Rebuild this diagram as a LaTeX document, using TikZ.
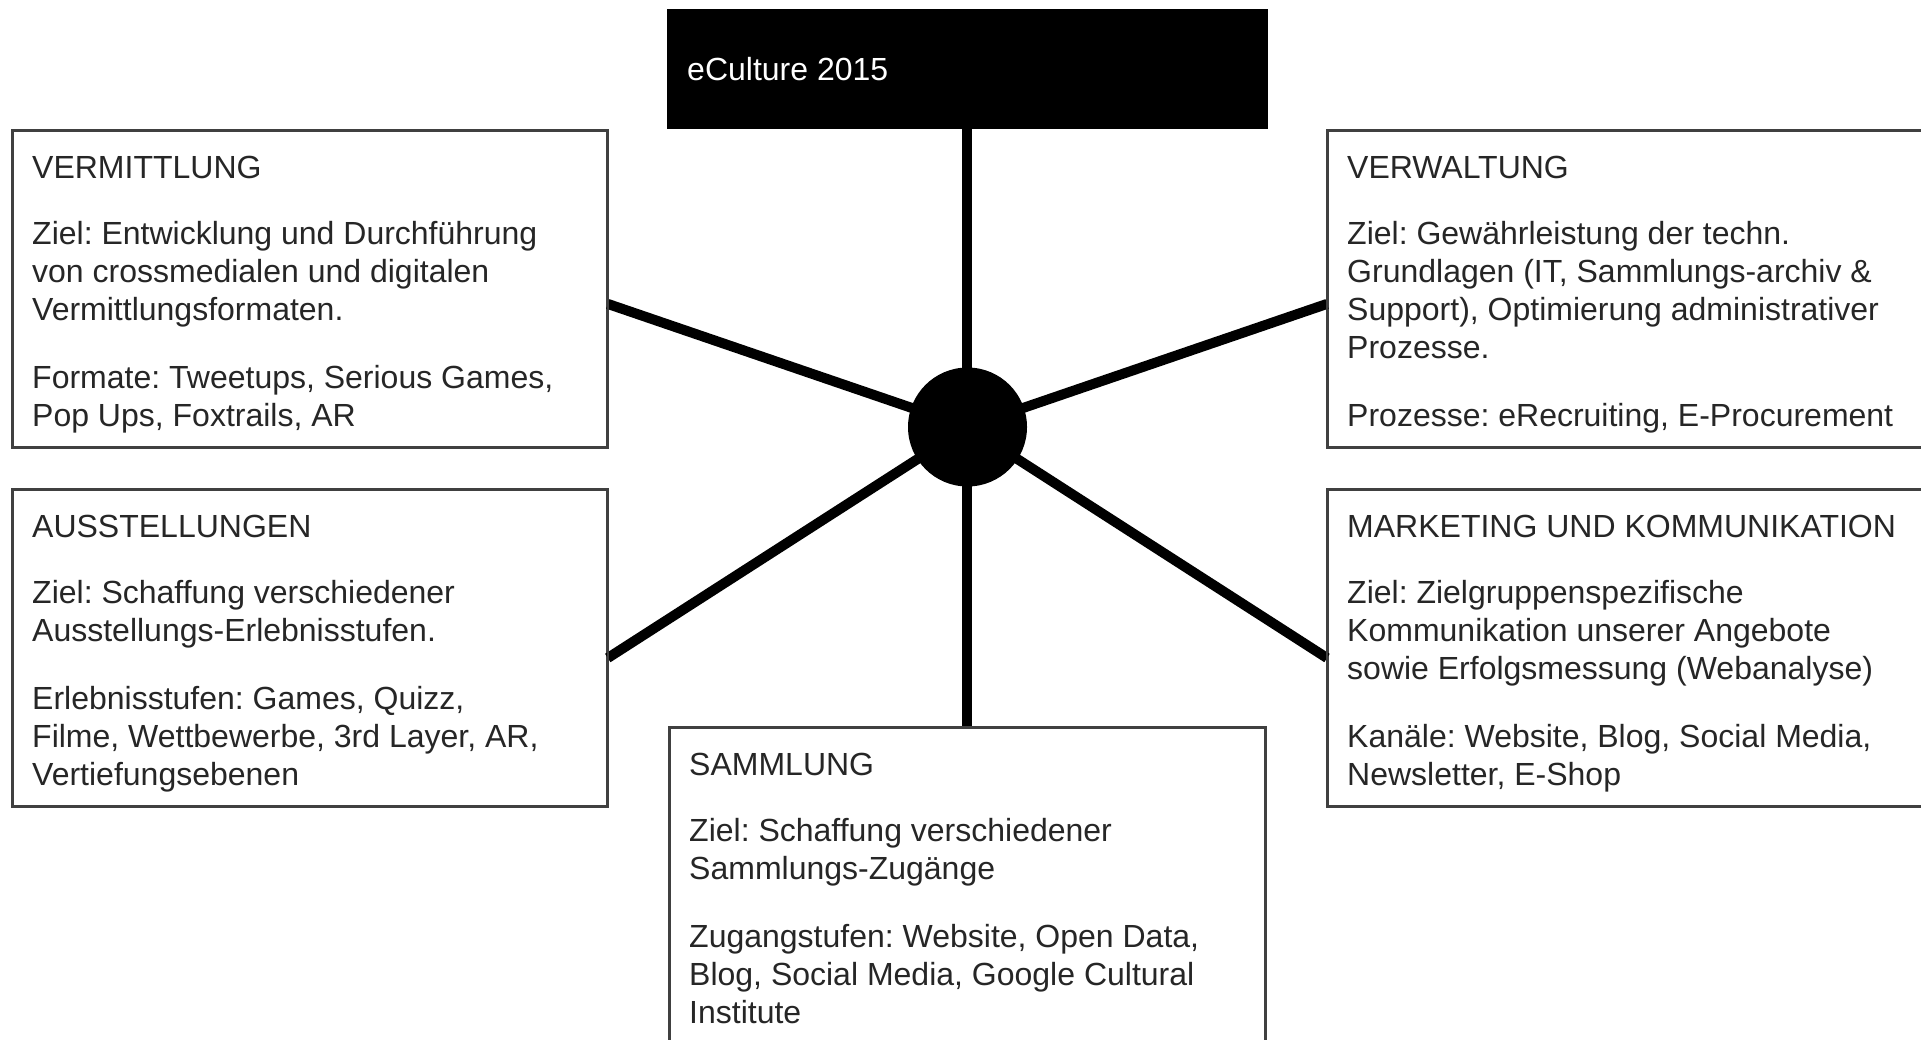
\documentclass[tikz,border=0pt]{standalone}
\usepackage{fontspec}
\setmainfont{Liberation Sans}
\frenchspacing
\tikzset{
  box/.style={draw=black!75, line width=1.8pt, fill=white, rectangle, inner sep=0pt, anchor=north west, minimum width=594pt, minimum height=316pt},
  txt/.style={anchor=north west, inner sep=0pt, align=left, font=\fontsize{32}{38}\selectfont\frenchspacing, text=black!85},
  spoke/.style={line width=10pt, black},
}
\newcommand{\fl}{\rule{0pt}{24pt}}
\newcommand{\pg}{\\[30.5pt]}
\newcommand{\hg}{\\[28pt]}
\begin{document}
\begin{tikzpicture}[x=1pt,y=-1pt]
\useasboundingbox (0,0) rectangle (1921,1039);
\clip (0,0) rectangle (1921,1039);
% boxes
\node[box, fill=black, draw=black, minimum width=599pt, minimum height=118pt] (top) at (667,9) {};
\node[box] (verm) at (12,130) {};
\node[box] (verw) at (1327,130) {};
\node[box] (auss) at (12,489) {};
\node[box] (mark) at (1327,489) {};
\node[box, minimum width=595pt, minimum height=340pt] (samm) at (669,727) {};
\coordinate (c) at (967.5,427);
% spokes
\draw[spoke] (top.south) -- (samm.north);
\draw[spoke] (c) -- ([yshift=-15pt]verm.east);
\draw[spoke] (c) -- ([yshift=-15pt]verw.west);
\draw[spoke] (c) -- ([yshift=-169pt]auss.north east);
\draw[spoke] (c) -- ([yshift=-169pt]mark.north west);
\node[circle, fill=black, minimum size=119pt, inner sep=0pt] (hub) at (c) {};
% redraw box borders on top of spoke ends
\draw[draw=black!75, line width=1.8pt] (verm.north west) rectangle (verm.south east);
\draw[draw=black!75, line width=1.8pt] (verw.north west) rectangle (verw.south east);
\draw[draw=black!75, line width=1.8pt] (auss.north west) rectangle (auss.south east);
\draw[draw=black!75, line width=1.8pt] (mark.north west) rectangle (mark.south east);
\draw[draw=black!75, line width=1.8pt] (samm.north west) rectangle (samm.south east);
% texts
\node[txt, text=white] (ttop) at ([xshift=20pt,yshift=-47pt]top.north west) {\fl eCulture 2015};
\node[txt] (tverm) at ([xshift=20pt,yshift=-24pt]verm.north west) {\fl VERMITTLUNG\hg
Ziel: Entwicklung und Durchführung\\
von crossmedialen und digitalen\\
Vermittlungsformaten.\pg
Formate: Tweetups, Serious Games,\\
Pop Ups, Foxtrails, AR};
\node[txt] (tverw) at ([xshift=20pt,yshift=-24pt]verw.north west) {\fl VERWALTUNG\hg
Ziel: Gewährleistung der techn.\\
Grundlagen (IT, Sammlungs-archiv \&\\
Support), Optimierung administrativer\\
Prozesse.\pg
Prozesse: eRecruiting, E-Procurement};
\node[txt] (tauss) at ([xshift=20pt,yshift=-24pt]auss.north west) {\fl AUSSTELLUNGEN\hg
Ziel: Schaffung verschiedener\\
Ausstellungs-Erlebnisstufen.\pg
Erlebnisstufen: Games, Quizz,\\
Filme, Wettbewerbe, 3rd Layer, AR,\\
Vertiefungsebenen};
\node[txt] (tmark) at ([xshift=20pt,yshift=-24pt]mark.north west) {\fl MARKETING UND KOMMUNIKATION\hg
Ziel: Zielgruppenspezifische\\
Kommunikation unserer Angebote\\
sowie Erfolgsmessung (Webanalyse)\pg
Kanäle: Website, Blog, Social Media,\\
Newsletter, E-Shop};
\node[txt] (tsamm) at ([xshift=20pt,yshift=-24pt]samm.north west) {\fl SAMMLUNG\hg
Ziel: Schaffung verschiedener\\
Sammlungs-Zugänge\pg
Zugangstufen: Website, Open Data,\\
Blog, Social Media, Google Cultural\\
Institute};
\end{tikzpicture}
\end{document}
